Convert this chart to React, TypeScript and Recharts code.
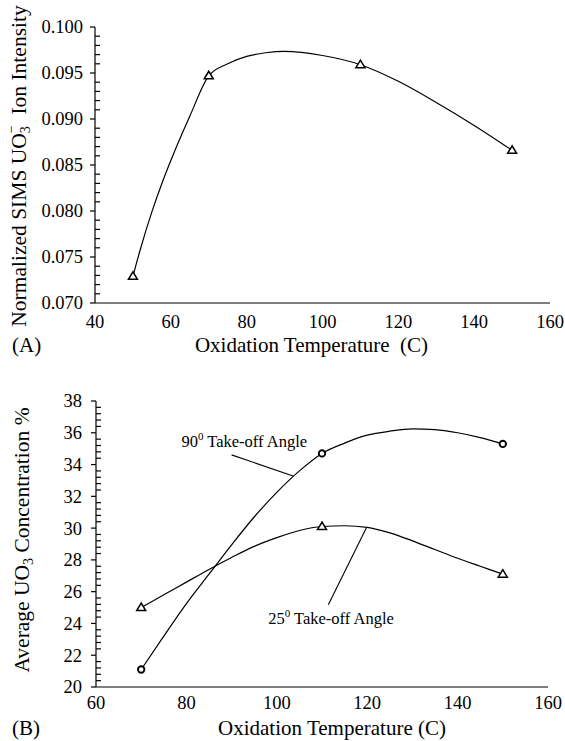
import { ComposedChart, Line, XAxis, YAxis, ReferenceLine, ReferenceDot } from "recharts";

// ---- (A) normalized SIMS UO3- ion intensity ----
const simsTemp = [50, 70, 110, 150];
const simsIntensity = [0.0729, 0.0947, 0.0959, 0.0866];
// smooth fit curve
const simsCurveTemp = [50, 52, 55, 58, 61, 65, 70, 75, 80, 85, 90, 100, 110, 120, 130, 140, 150];
const simsCurveValue = [
  0.0729, 0.0759, 0.0799, 0.0834, 0.0865, 0.0903, 0.0947, 0.096, 0.0968, 0.0972, 0.09735, 0.0969, 0.0959,
  0.0941, 0.0918, 0.0893, 0.0866,
];
const simsXTicks = [40, 60, 80, 100, 120, 140, 160];
const simsYTicks = [0.07, 0.075, 0.08, 0.085, 0.09, 0.095, 0.1];

// ---- (B) average UO3 concentration ----
const xpsTemp = [70, 110, 150];
const angle90 = [21.1, 34.7, 35.3];
const angle25 = [25.0, 30.1, 27.1];
const curve90Temp = [70, 75, 80, 85, 90, 95, 100, 105, 110, 115, 120, 125, 130, 135, 140, 145, 150];
const curve90Value = [21.1, 23.2, 25.25, 27.1, 28.95, 30.7, 32.25, 33.6, 34.7, 35.35, 35.85, 36.1, 36.25, 36.2, 36.0, 35.7, 35.3];
const curve25Temp = [70, 75, 80, 85, 90, 95, 100, 105, 110, 115, 120, 125, 130, 135, 140, 145, 150];
const curve25Value = [25.0, 25.8, 26.6, 27.4, 28.15, 28.85, 29.4, 29.85, 30.1, 30.15, 30.05, 29.7, 29.2, 28.65, 28.1, 27.6, 27.1];
const xpsXTicks = [60, 80, 100, 120, 140, 160];
const xpsYTicks = [20, 22, 24, 26, 28, 30, 32, 34, 36, 38];

const FONT = '"Liberation Serif", "Times New Roman", serif';
const INK = "#000";
const txt = { fontFamily: FONT };

const zip = (xs: number[], ys: number[]) => xs.map((x, i) => ({ x, y: ys[i] }));

// all tick positions (major + minor) for the inside tick marks
const tickRange = (min: number, max: number, step: number) => {
  const n = Math.round((max - min) / step);
  return Array.from({ length: n + 1 }, (_, i) => +(min + i * step).toFixed(6));
};

const isIn = (list: number[], v: number) => list.some((m) => Math.abs(m - v) < 1e-7);

const leftTick = (majors: number[], digits: number, gap: number) => (props: any) => {
  const { x, y, payload } = props;
  const v = payload.value;
  if (isIn(majors, v)) {
    return (
      <g>
        <line x1={x - 5} x2={x} y1={y} y2={y} stroke={INK} strokeWidth={1.2} />
        <text x={x - gap} y={y} dy="0.35em" textAnchor="end" style={txt} fontSize={18.5} fill={INK}>
          {v.toFixed(digits)}
        </text>
      </g>
    );
  }
  return <line x1={x} x2={x + 5} y1={y} y2={y} stroke={INK} strokeWidth={1.2} />;
};

const rightTick = (majors: number[]) => (props: any) => {
  const { x, y, payload } = props;
  if (isIn(majors, payload.value)) return <g />;
  return <line x1={x - 5} x2={x} y1={y} y2={y} stroke={INK} strokeWidth={1.2} />;
};

const topTick = (min: number, max: number) => (props: any) => {
  const { x, y, payload } = props;
  if (payload.value <= min || payload.value >= max) return <g />;
  return <line x1={x} x2={x} y1={y} y2={y + 5} stroke={INK} strokeWidth={1.2} />;
};

const bottomTick = (offset: number) => (props: any) => {
  const { x, y, payload } = props;
  return (
    <text x={x} y={y + offset} textAnchor="middle" style={txt} fontSize={18.5} fill={INK}>
      {payload.value}
    </text>
  );
};

const triangle = (p: any) => (
  <path
    key={`t-${p.index}`}
    d={`M${p.cx},${p.cy - 4.5}L${p.cx - 4.5},${p.cy + 3}L${p.cx + 4.5},${p.cy + 3}Z`}
    fill="#fff"
    stroke={INK}
    strokeWidth={1.5}
  />
);

const circle = (p: any) => (
  <circle key={`c-${p.index}`} cx={p.cx} cy={p.cy} r={3.2} fill="#fff" stroke={INK} strokeWidth={1.9} />
);

const axisLine = { stroke: INK, strokeWidth: 1.2 };

const xTitle = (panel: string, title: string, dx: number, baseline: number) => (props: any) => {
  const vb = props.viewBox;
  return (
    <g>
      <text
        x={vb.x + vb.width / 2 + dx}
        y={vb.y + baseline}
        textAnchor="middle"
        style={{ ...txt, whiteSpace: "pre" }}
        fontSize={21}
        fill={INK}
      >
        {title}
      </text>
      <text x={12} y={vb.y + baseline} style={txt} fontSize={21} fill={INK}>
        {panel}
      </text>
    </g>
  );
};

const simsYTitle = (props: any) => {
  const vb = props.viewBox;
  const cx = 19;
  const cy = vb.y + vb.height / 2 + 1;
  return (
    <text
      x={cx}
      y={cy}
      transform={`rotate(-90, ${cx}, ${cy})`}
      textAnchor="middle"
      dominantBaseline="central"
      style={{ ...txt, whiteSpace: "pre" }}
      fontSize={21.5}
      fill={INK}
    >
      Normalized SIMS UO
      <tspan fontSize={14} dy={6}>3</tspan>
      <tspan fontSize={14} dx={-7} dy={-14}>−</tspan>
      <tspan dy={8}>{"  Ion Intensity"}</tspan>
    </text>
  );
};

const xpsYTitle = (props: any) => {
  const vb = props.viewBox;
  const cx = 22;
  const cy = vb.y + vb.height / 2 - 4;
  return (
    <text
      x={cx}
      y={cy}
      transform={`rotate(-90, ${cx}, ${cy})`}
      textAnchor="middle"
      dominantBaseline="central"
      style={txt}
      fontSize={21.5}
      fill={INK}
    >
      Average UO
      <tspan fontSize={14} dy={6}>3</tspan>
      <tspan dy={-6}>{" Concentration %"}</tspan>
    </text>
  );
};

const angleLabel = (deg: string) => (props: any) => {
  const vb = props.viewBox;
  return (
    <text x={vb.x} y={vb.y} style={txt} fontSize={16.5} fill={INK}>
      {deg}
      <tspan fontSize={11} dy={-7}>0</tspan>
      <tspan dy={7}>{" Take-off Angle"}</tspan>
    </text>
  );
};

const SimsChart = () => {
  const minors = tickRange(0.07, 0.1, 0.001);
  return (
    <ComposedChart width={565} height={370} margin={{ top: 27, right: 15, bottom: 27, left: 0 }}>
      <XAxis
        xAxisId="b"
        dataKey="x"
        type="number"
        domain={[40, 160]}
        ticks={simsXTicks}
        interval={0}
        allowDataOverflow
        height={40}
        tickSize={0}
        tickMargin={0}
        tickLine={false}
        axisLine={axisLine}
        tick={bottomTick(25)}
        label={xTitle("(A)", "Oxidation Temperature  (C)", -11, 48.5)}
      />
      <XAxis
        xAxisId="t"
        orientation="top"
        type="number"
        domain={[40, 160]}
        ticks={simsXTicks}
        interval={0}
        allowDataOverflow
        height={0}
        tickSize={0}
        tickMargin={0}
        tickLine={false}
        axisLine={axisLine}
        tick={topTick(40, 160)}
      />
      <YAxis
        yAxisId="l"
        dataKey="y"
        type="number"
        domain={[0.07, 0.1]}
        ticks={minors}
        interval={0}
        allowDataOverflow
        width={95}
        tickSize={0}
        tickMargin={0}
        tickLine={false}
        axisLine={axisLine}
        tick={leftTick(simsYTicks, 3, 12)}
        label={simsYTitle}
      />
      <YAxis
        yAxisId="r"
        orientation="right"
        type="number"
        domain={[0.07, 0.1]}
        ticks={minors}
        interval={0}
        allowDataOverflow
        width={0}
        tickSize={0}
        tickMargin={0}
        tickLine={false}
        axisLine={axisLine}
        tick={rightTick(simsYTicks)}
      />
      <Line
        xAxisId="b"
        yAxisId="l"
        data={zip(simsCurveTemp, simsCurveValue)}
        dataKey="y"
        type="monotone"
        stroke={INK}
        strokeWidth={1.2}
        dot={false}
        activeDot={false}
        isAnimationActive={false}
      />
      <Line
        xAxisId="b"
        yAxisId="l"
        data={zip(simsTemp, simsIntensity)}
        dataKey="y"
        stroke="none"
        dot={triangle}
        activeDot={false}
        isAnimationActive={false}
      />
    </ComposedChart>
  );
};

const XpsChart = () => {
  const minors = tickRange(20, 38, 0.4);
  return (
    <ComposedChart width={565} height={371} margin={{ top: 31, right: 17, bottom: 14, left: 0 }}>
      <XAxis
        xAxisId="b"
        dataKey="x"
        type="number"
        domain={[60, 160]}
        ticks={xpsXTicks}
        interval={0}
        allowDataOverflow
        height={40}
        tickSize={0}
        tickMargin={0}
        tickLine={false}
        axisLine={axisLine}
        tick={bottomTick(22)}
        label={xTitle("(B)", "Oxidation Temperature (C)", 10, 48)}
      />
      <XAxis
        xAxisId="t"
        orientation="top"
        type="number"
        domain={[60, 160]}
        ticks={xpsXTicks}
        interval={0}
        allowDataOverflow
        height={0}
        tickSize={0}
        tickMargin={0}
        tickLine={false}
        axisLine={axisLine}
        tick={topTick(60, 160)}
      />
      <YAxis
        yAxisId="l"
        dataKey="y"
        type="number"
        domain={[20, 38]}
        ticks={minors}
        interval={0}
        allowDataOverflow
        width={96}
        tickSize={0}
        tickMargin={0}
        tickLine={false}
        axisLine={axisLine}
        tick={leftTick(xpsYTicks, 0, 14)}
        label={xpsYTitle}
      />
      <YAxis
        yAxisId="r"
        orientation="right"
        type="number"
        domain={[20, 38]}
        ticks={minors}
        interval={0}
        allowDataOverflow
        width={0}
        tickSize={0}
        tickMargin={0}
        tickLine={false}
        axisLine={axisLine}
        tick={rightTick(xpsYTicks)}
      />
      <Line
        xAxisId="b"
        yAxisId="l"
        data={zip(curve90Temp, curve90Value)}
        dataKey="y"
        type="monotone"
        stroke={INK}
        strokeWidth={1.2}
        dot={false}
        activeDot={false}
        isAnimationActive={false}
      />
      <Line
        xAxisId="b"
        yAxisId="l"
        data={zip(curve25Temp, curve25Value)}
        dataKey="y"
        type="monotone"
        stroke={INK}
        strokeWidth={1.2}
        dot={false}
        activeDot={false}
        isAnimationActive={false}
      />
      <Line
        xAxisId="b"
        yAxisId="l"
        data={zip(xpsTemp, angle90)}
        dataKey="y"
        stroke="none"
        dot={circle}
        activeDot={false}
        isAnimationActive={false}
      />
      <Line
        xAxisId="b"
        yAxisId="l"
        data={zip(xpsTemp, angle25)}
        dataKey="y"
        stroke="none"
        dot={triangle}
        activeDot={false}
        isAnimationActive={false}
      />
      {/* leader lines to the curve labels */}
      <ReferenceLine xAxisId="b" yAxisId="l" segment={[{ x: 90.0, y: 34.61 }, { x: 103.6, y: 33.28 }]} stroke={INK} strokeWidth={1.1} />
      <ReferenceLine xAxisId="b" yAxisId="l" segment={[{ x: 111.4, y: 25.18 }, { x: 119.8, y: 30.0 }]} stroke={INK} strokeWidth={1.1} />
      <ReferenceDot xAxisId="b" yAxisId="l" x={78.9} y={35.1} r={0} fill="none" stroke="none" label={angleLabel("90")} />
      <ReferenceDot xAxisId="b" yAxisId="l" x={98.1} y={23.98} r={0} fill="none" stroke="none" label={angleLabel("25")} />
    </ComposedChart>
  );
};

export default function App() {
  return (
    <div style={{ position: "absolute", left: 0, top: 0, width: 565, height: 741, background: "#fff", fontFamily: FONT }}>
      <div style={{ position: "absolute", left: 0, top: 0 }}>
        <SimsChart />
      </div>
      <div style={{ position: "absolute", left: 0, top: 370 }}>
        <XpsChart />
      </div>
    </div>
  );
}
